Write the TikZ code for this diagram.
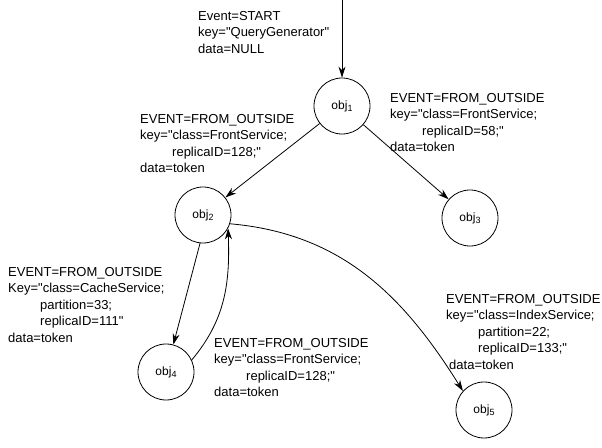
\documentclass[tikz,border=0pt]{standalone}
\usepackage{fontspec}
\setmainfont{Liberation Sans}[Ligatures=TeXOff]
\usetikzlibrary{arrows.meta}
\newcommand{\ind}{\hspace*{32pt}}
\newcommand{\objname}[1]{obj\raisebox{-2.5pt}{\fontsize{9}{9}\selectfont #1}}
\begin{document}
\begin{tikzpicture}[x=1pt,y=1pt,
  obj/.style={circle,draw,line width=0.8pt,minimum size=56pt,inner sep=0pt,
    font=\fontsize{12}{14}\selectfont},
  lbl/.style={anchor=north west,inner sep=0pt,align=left,
    font=\fontsize{13}{16.5}\selectfont},
  edge/.style={line width=0.8pt,-{Stealth[length=11pt,width=7pt]}}]
\useasboundingbox[fill=white] (0,0) rectangle (602,447);

% state objects
\node[obj] (o1) at (342,341) {\objname{1}};
\node[obj] (o2) at (203,232) {\objname{2}};
\node[obj] (o3) at (470,229) {\objname{3}};
\node[obj] (o4) at (166,75)  {\objname{4}};
\node[obj] (o5) at (484,37)  {\objname{5}};
\coordinate (src) at (342,447);

% transitions
\draw[edge] (src) -- (o1);
\draw[edge] (o1) -- (o2);
\draw[edge] (o1) -- (o3);
\draw[edge] (o2.-96) -- (o4.75);
\draw[edge] (o4.25) to[out=50,in=-88] (o2.-28);
\draw[edge] (o2.-18) to[out=-5,in=122] (o5.138);

% event descriptions
\node[lbl] (la) at (198,436) {Event=START\\key="QueryGenerator"\\data=NULL};
\node[lbl] (lb) at (140,333) {EVENT=FROM\_OUTSIDE\\key="class=FrontService;\\\ind replicaID=128;"\\data=token};
\node[lbl] (lc) at (390,354) {EVENT=FROM\_OUTSIDE\\key="class=FrontService;\\\ind replicaID=58;"\\data=token};
\node[lbl] (ld) at (8,180) {EVENT=FROM\_OUTSIDE\\Key="class=CacheService;\\\ind partition=33;\\\ind replicaID=111"\\data=token};
\node[lbl] (le) at (214,109) {EVENT=FROM\_OUTSIDE\\key="class=FrontService;\\\ind replicaID=128;"\\data=token};
\node[lbl] (lf) at (446,153) {EVENT=FROM\_OUTSIDE\\key="class=IndexService;\\\ind partition=22;\\\ind replicaID=133;"\\\hspace*{3pt}data=token};
\end{tikzpicture}
\end{document}
